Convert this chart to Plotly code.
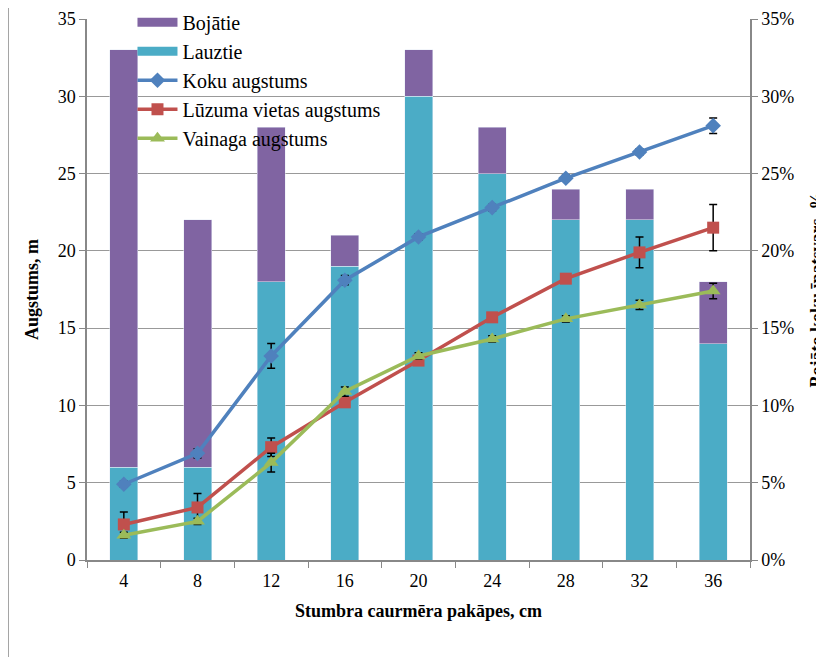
import plotly.graph_objects as go

categories = ["4", "8", "12", "16", "20", "24", "28", "32", "36"]
lauztie = [0.06, 0.06, 0.18, 0.19, 0.30, 0.25, 0.22, 0.22, 0.14]
bojatie = [0.27, 0.16, 0.10, 0.02, 0.03, 0.03, 0.02, 0.02, 0.04]
koku = [4.9, 6.9, 13.2, 18.1, 20.9, 22.8, 24.7, 26.4, 28.1]
koku_err = [0.2, 0.3, 0.8, 0.3, 0.2, 0.2, 0.2, 0.2, 0.5]
luzuma = [2.3, 3.4, 7.3, 10.2, 12.9, 15.7, 18.2, 19.9, 21.5]
luzuma_err = [0.8, 0.9, 0.6, 0.3, 0.3, 0.3, 0.3, 1.0, 1.5]
vainaga = [1.6, 2.5, 6.3, 10.9, 13.2, 14.3, 15.6, 16.5, 17.4]
vainaga_err = [0.2, 0.2, 0.6, 0.3, 0.2, 0.2, 0.2, 0.3, 0.5]

FONT = "Liberation Serif, Times New Roman, serif"
PURPLE, CYAN = "#8064A2", "#4BACC6"
fig = go.Figure()

fig.add_trace(go.Bar(x=categories, y=lauztie, name="Lauztie", marker_color=CYAN,
                     yaxis="y", showlegend=False))
fig.add_trace(go.Bar(x=categories, y=bojatie, name="Bojātie", marker_color=PURPLE,
                     yaxis="y", showlegend=False))

# legend-only entries drawn as wide rectangles like the original
for nm, col, rk in [("Bojātie", PURPLE, 1), ("Lauztie", CYAN, 2)]:
    fig.add_trace(go.Scatter(x=[None], y=[None], name=nm, mode="lines", yaxis="y",
                             line=dict(color=col, width=9), legendgroup=nm, legendrank=rk))

def line(y, err, name, color, symbol, size, rank):
    return go.Scatter(x=categories, y=y, name=name, yaxis="y2", mode="lines+markers",
                      line=dict(color=color, width=3.5),
                      marker=dict(symbol=symbol, size=size, color=color),
                      error_y=dict(type="data", array=err, color="black", thickness=1.5, width=4),
                      legendgroup=name, legendrank=rank)

fig.add_trace(line(koku, koku_err, "Koku augstums", "#4F81BD", "diamond", 12, 3))
fig.add_trace(line(luzuma, luzuma_err, "Lūzuma vietas augstums", "#C0504D", "square", 12, 4))
fig.add_trace(line(vainaga, vainaga_err, "Vainaga augstums", "#9BBB59", "triangle-up", 13, 5))

fig.update_layout(
    width=816, height=649,
    margin=dict(l=79, r=74, t=11, b=97, autoexpand=False),
    paper_bgcolor="white", plot_bgcolor="white",
    barmode="stack", bargap=0.62,
    font=dict(family=FONT, size=18, color="black"),
    showlegend=True,
    legend=dict(x=0.0686, y=1.03, xanchor="left", yanchor="top", bgcolor="rgba(0,0,0,0)",
                font=dict(family=FONT, size=20), traceorder="grouped", tracegroupgap=0,
                itemwidth=40),
    xaxis=dict(type="category", range=[-0.5, 8.5], tickson="boundaries", ticks="outside",
               ticklen=6, tickcolor="#888888", showline=True, linecolor="#888888", linewidth=1.5,
               showgrid=False, tickfont=dict(family=FONT, size=18), ticklabelstandoff=4,
               title=dict(text="<b>Stumbra caurmēra pakāpes, cm</b>", font=dict(family=FONT, size=18),
                          standoff=14)),
    yaxis=dict(side="right", range=[0, 0.35], dtick=0.05, tickformat=".0%", ticks="outside",
               ticklen=6, tickcolor="#888888", showline=True, linecolor="#888888", linewidth=1.5,
               showgrid=True, gridcolor="#999999", gridwidth=1.3, zeroline=False,
               tickfont=dict(family=FONT, size=18)),
    yaxis2=dict(side="left", overlaying="y", range=[0, 35], dtick=5, ticks="outside",
                ticklen=6, tickcolor="#888888", showline=True, linecolor="#888888", linewidth=1.5,
                showgrid=False, zeroline=False, tickfont=dict(family=FONT, size=18),
                title=dict(text="<b>Augstums, m</b>", font=dict(family=FONT, size=18), standoff=14)),
)

fig.add_annotation(text="<b>Bojāto koku īpatsvars, %</b>", xref="paper", yref="paper",
                   x=(816 - 87) / 663, y=0.5, textangle=-90, showarrow=False,
                   font=dict(family=FONT, size=18), xanchor="center", yanchor="middle")

fig.add_shape(type="rect", xref="paper", yref="paper",
              x0=(8 - 87) / 663, x1=(830 - 87) / 663,
              y0=(560 - 665) / 541, y1=(560 - 5) / 541,
              line=dict(color="#888888", width=1.5), fillcolor="rgba(0,0,0,0)", layer="below")

fig.write_html("out.html")
